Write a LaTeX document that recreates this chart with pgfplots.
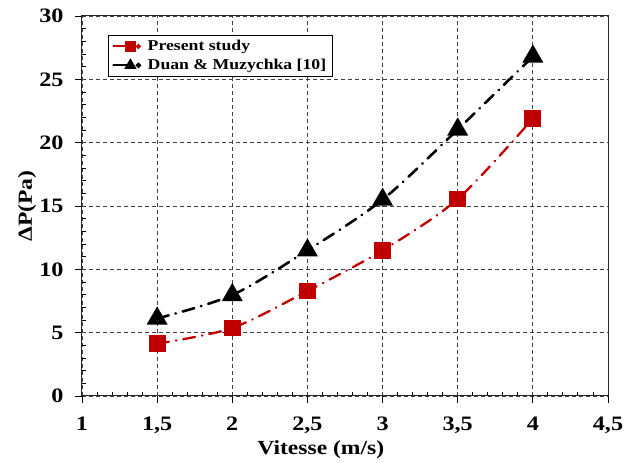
\documentclass[border=0pt]{standalone}
\usepackage{pgfplots}
\pgfplotsset{compat=1.18}
\usepackage{fontspec}
\setmainfont{Liberation Serif}[FakeStretch=1.18]
\definecolor{dred}{HTML}{C00000}
\begin{document}
\begin{tikzpicture}
\begin{axis}[
  scale only axis,
  width=526pt, height=380pt,
  xmin=1, xmax=4.5, ymin=0, ymax=30,
  xtick={1,1.5,2,2.5,3,3.5,4,4.5},
  ytick={0,5,10,15,20,25,30},
  minor x tick num=4, minor y tick num=4,
  xtick pos=left, ytick pos=left,
  tick align=outside,
  major tick length=7pt, minor tick length=4pt,
  minor x tick style={yshift=4pt},
  minor y tick style={xshift=4pt},
  grid=major,
  major grid style={dash pattern=on 4pt off 3pt, black!75, line width=0.8pt},
  axis line style={line width=1pt, black!85},
  every tick/.style={black, line width=0.9pt},
  /pgf/number format/use comma,
  /pgf/number format/assume math mode=true,
  tick label style={font=\fontsize{20.5}{22}\selectfont\bfseries},
  xticklabel style={anchor=north, yshift=-10pt},
  yticklabel style={anchor=east, xshift=-8pt},
  xlabel={\fontsize{20}{22}\selectfont\bfseries Vitesse (m/s)},
  ylabel={\fontsize{20}{22}\selectfont\bfseries ΔP(Pa)},
  xlabel style={at={(axis description cs:0.454,-0.142)}, anchor=center},
  ylabel style={at={(axis description cs:-0.1046,0.5)}, anchor=center, rotate=0},
  legend style={at={(0.0494,0.95)}, anchor=north west, draw=black, line width=0.9pt,
    font=\fontsize{15}{18}\selectfont\bfseries, row sep=3pt, inner xsep=4pt, inner ysep=3pt},
  legend cell align=left,
  legend image code/.code={
    \draw[#1, solid, mark=none, line width=2pt] (0pt,0pt) -- (17pt,0pt);
    \draw[#1, solid, mark size=4.5pt] plot coordinates {(17pt,0pt)};
    \fill[#1, solid] (25pt,0pt) circle (1.2pt);
    \path (31pt,0pt);
  },
]
\addplot[color=dred, line width=2.3pt, line cap=round, dash pattern=on 12pt off 7pt on 0.5pt off 7pt, smooth,
  mark=square*, mark size=7.3pt, mark options={solid, fill=dred}]
  coordinates {(1.5,4.14) (2,5.37) (2.5,8.29) (3,11.5) (3.5,15.55) (4,21.9)};
\addlegendentry{Present study}
\addplot[color=black, line width=2.6pt, line cap=round, dash pattern=on 12pt off 7pt on 0.5pt off 7pt, smooth,
  mark=triangle*, mark size=9.5pt, mark options={solid, fill=black}]
  coordinates {(1.5,6.12) (2,7.97) (2.5,11.5) (3,15.5) (3.5,21.04) (4,26.8)};
\addlegendentry{Duan \& Muzychka [10]}
\end{axis}
\path ([xshift=-82pt,yshift=-61pt]current axis.south west) rectangle ([xshift=29pt,yshift=16pt]current axis.north east);
\end{tikzpicture}
\end{document}
